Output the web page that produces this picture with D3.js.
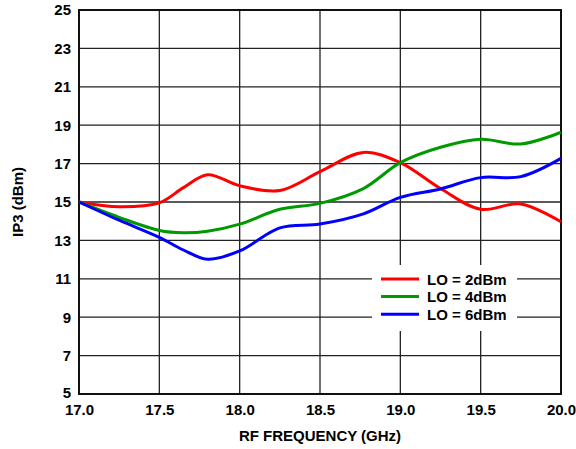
<!DOCTYPE html>
<html><head><meta charset="utf-8">
<script src="https://cdn.jsdelivr.net/npm/d3@7"></script>
<style>body{margin:0;background:#fff}svg{display:block}text{font-family:"Liberation Sans",Arial,sans-serif;font-weight:bold;fill:#000}</style>
</head><body>
<svg id="c" width="576" height="449"></svg>
<script>
const xTicks = [17.0, 17.5, 18.0, 18.5, 19.0, 19.5, 20.0];
const yTicks = [5, 7, 9, 11, 13, 15, 17, 19, 21, 23, 25];
const freqs = [17.0, 17.25, 17.5, 17.65, 17.8, 18.0, 18.25, 18.5, 18.77, 19.0, 19.25, 19.5, 19.75, 20.0];
const lo2 = [15.0, 14.75, 14.96, 15.75, 16.42, 15.85, 15.6, 16.58, 17.58, 17.05, 15.7, 14.62, 14.9, 13.97];
const lo4 = [15.0, 14.2, 13.52, 13.4, 13.48, 13.85, 14.62, 14.93, 15.7, 17.05, 17.85, 18.27, 18.02, 18.63];
const lo6 = [15.0, 14.05, 13.16, 12.5, 12.02, 12.45, 13.65, 13.85, 14.38, 15.24, 15.68, 16.27, 16.32, 17.27];
const seriesNames = ["LO = 2dBm", "LO = 4dBm", "LO = 6dBm"];
const seriesColors = ["#ff0000", "#009900", "#0000ff"];
const seriesValues = [lo2, lo4, lo6];

const svg = d3.select("#c");
const L = 79, R = 561, T = 10, B = 394;
const x = d3.scaleLinear().domain([17, 20]).range([L, R]);
const y = d3.scaleLinear().domain([5, 25]).range([B, T]);

const g = svg.append("g");
g.selectAll(".hg").data(yTicks).enter().append("line")
  .attr("x1", L).attr("x2", R).attr("y1", d => y(d)).attr("y2", d => y(d))
  .attr("stroke", "#222").attr("stroke-width", 1.3);
g.selectAll(".vg").data(xTicks).enter().append("line")
  .attr("y1", T).attr("y2", B).attr("x1", d => x(d)).attr("x2", d => x(d))
  .attr("stroke", "#222").attr("stroke-width", 1.3);

const lg = svg.append("g");
lg.append("rect").attr("x", 372).attr("y", 265).attr("width", 145).attr("height", 66).attr("fill", "#fff");

svg.append("rect").attr("x", L).attr("y", T).attr("width", R - L).attr("height", B - T)
  .attr("fill", "none").attr("stroke", "#111").attr("stroke-width", 2);

const xAxis = d3.axisBottom(x).tickValues(xTicks).tickFormat(d3.format(".1f")).tickSize(0).tickPadding(10);
const xa = svg.append("g").attr("transform", `translate(0,${B})`).call(xAxis);
xa.select(".domain").remove();
xa.selectAll("text").attr("font-size", 15).attr("font-family", null);
const yAxis = d3.axisLeft(y).tickValues(yTicks).tickFormat(d3.format("d")).tickSize(0).tickPadding(8);
const ya = svg.append("g").attr("transform", `translate(${L},0)`).call(yAxis);
ya.select(".domain").remove();
ya.selectAll("text").attr("font-size", 15).attr("font-family", null)
  .attr("dy", d => d === 5 ? "0.2em" : "0.32em");

svg.append("text").attr("x", (L + R) / 2).attr("y", 441).attr("text-anchor", "middle")
  .attr("font-size", 15).text("RF FREQUENCY (GHz)");
svg.append("text").attr("transform", `translate(23,${(T + B) / 2}) rotate(-90)`).attr("text-anchor", "middle")
  .attr("font-size", 15).text("IP3 (dBm)");

const line = d3.line().x((d, i) => x(freqs[i])).y(d => y(d)).curve(d3.curveCatmullRom.alpha(0.5));
seriesValues.forEach((vals, k) => {
  svg.append("path").attr("d", line(vals)).attr("fill", "none")
    .attr("stroke", seriesColors[k]).attr("stroke-width", 3).attr("stroke-linejoin", "round");
});

seriesNames.forEach((n, k) => {
  const yy = 279 + k * 17.6;
  lg.append("line").attr("x1", 381).attr("x2", 419).attr("y1", yy).attr("y2", yy)
    .attr("stroke", seriesColors[k]).attr("stroke-width", 3);
  lg.append("text").attr("x", 427).attr("y", yy + 5.5).attr("font-size", 15).text(n);
});
</script>
</body></html>
